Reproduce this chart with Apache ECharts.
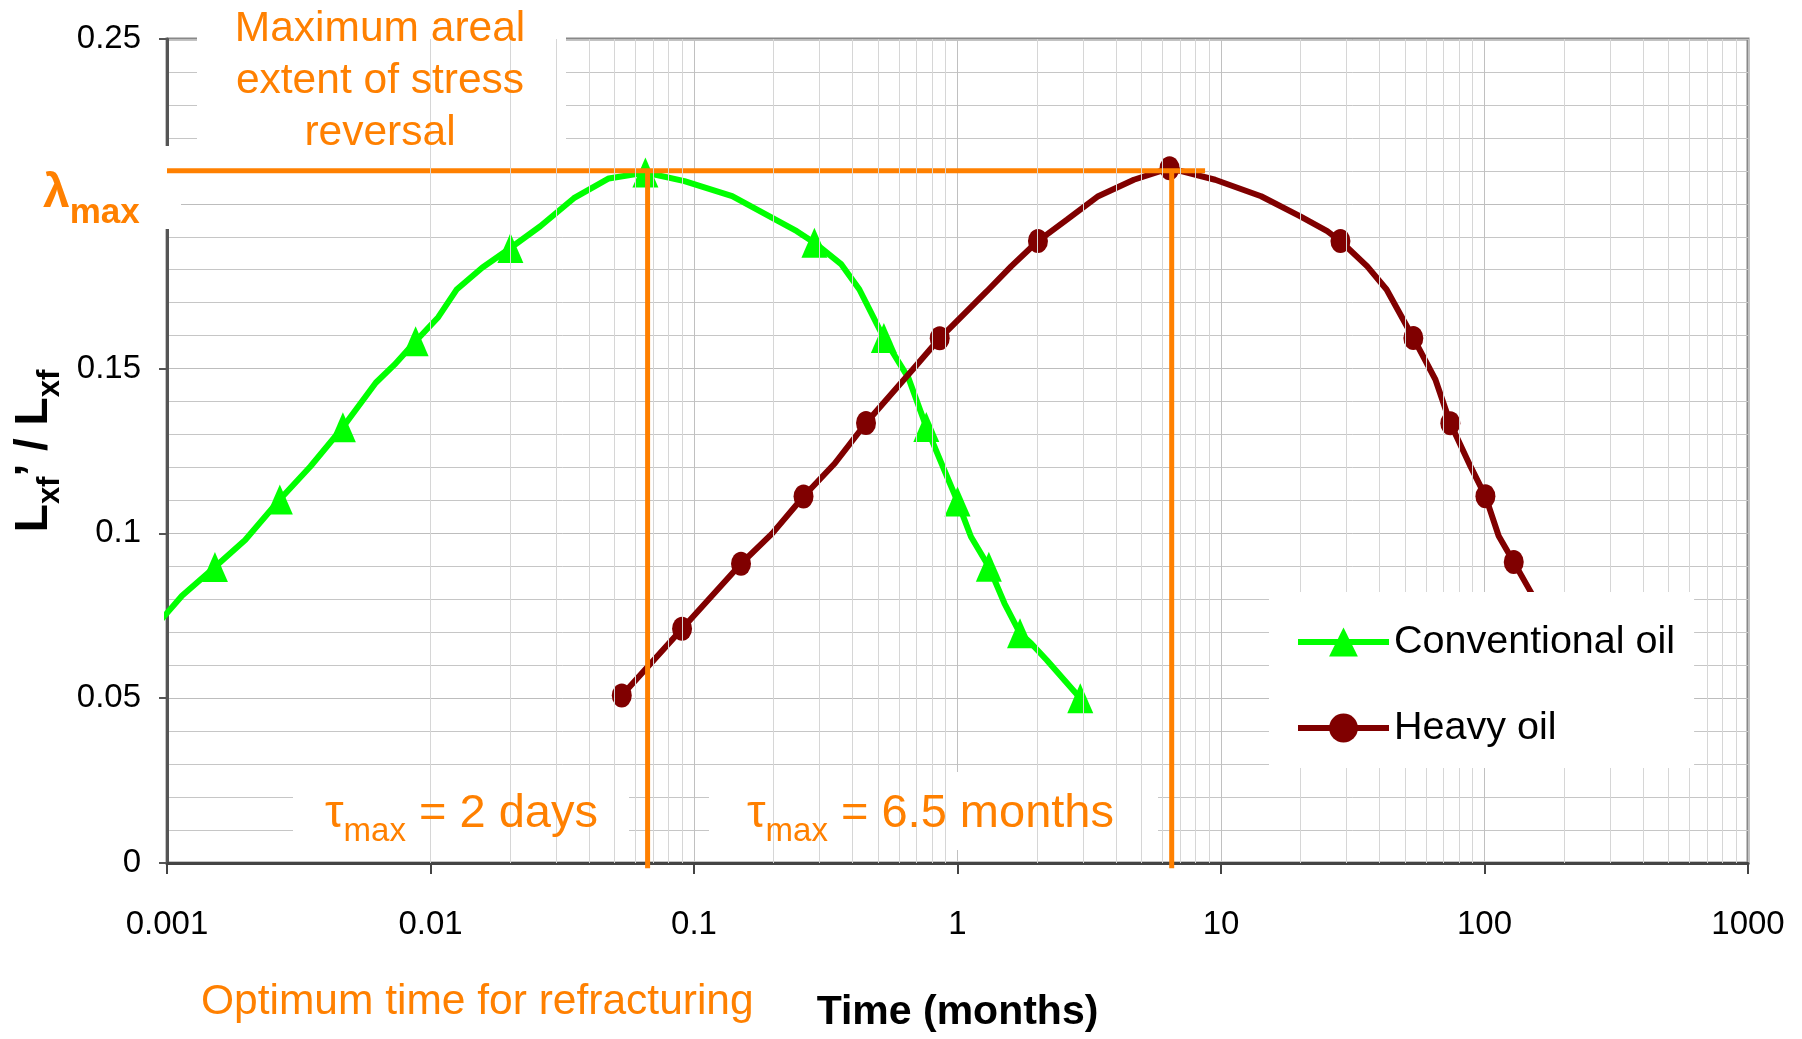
<!DOCTYPE html>
<html>
<head>
<meta charset="utf-8">
<script src="https://cdn.jsdelivr.net/npm/echarts@6/dist/echarts.min.js"></script>
<style>
  html, body { margin: 0; padding: 0; background: #fff; }
  #chart { width: 1802px; height: 1039px; }
</style>
</head>
<body>
<div id="chart"></div>
<script>
// time in months vs Lxf'/Lxf
var convMarkTime  = [0.00152, 0.00268, 0.00465, 0.00878, 0.0201, 0.0654, 0.2864, 0.5255, 0.7614, 1.0, 1.315, 1.727, 2.924];
var convMarkValue = [0.0898, 0.1103, 0.1322, 0.1583, 0.1866, 0.2095, 0.1882, 0.1593, 0.1323, 0.1097, 0.0899, 0.0697, 0.0500];
// line vertices between the markers
var convLineTime  = [0.00092, 0.00114, 0.00198, 0.0035, 0.0062, 0.0073, 0.0107, 0.0126, 0.0157, 0.0261, 0.035, 0.0475, 0.092, 0.1396, 0.2455, 0.3626, 0.4243, 0.651, 0.890, 1.125, 1.507, 1.905, 2.18];
var convLineValue = [0.0725, 0.0811, 0.0980, 0.1203, 0.1457, 0.1512, 0.1656, 0.1741, 0.1806, 0.1932, 0.2017, 0.2077, 0.2069, 0.2023, 0.1917, 0.1816, 0.1740, 0.1472, 0.1193, 0.0990, 0.0788, 0.0666, 0.0616];

var heavyMarkTime  = [0.0532, 0.0901, 0.1508, 0.2604, 0.4496, 0.856, 2.02, 6.38, 28.4, 53.7, 74.2, 100.8, 129.1];
var heavyMarkValue = [0.0508, 0.0711, 0.0908, 0.1112, 0.1335, 0.1592, 0.1887, 0.2108, 0.1887, 0.1593, 0.1334, 0.1113, 0.0913];
var heavyLineTime  = [0.1982, 0.342, 0.674, 1.29, 1.598, 2.602, 3.42, 4.67, 9.5, 14.2, 20.0, 25.3, 35.9, 42.5, 65.1, 88.4, 113.2, 151.6, 175];
var heavyLineValue = [0.1000, 0.1212, 0.1496, 0.1734, 0.1810, 0.1952, 0.2023, 0.2073, 0.2073, 0.2023, 0.1962, 0.1917, 0.1810, 0.1740, 0.1467, 0.1204, 0.0992, 0.0815, 0.0720];

var xTicks = [0.001, 0.01, 0.1, 1, 10, 100, 1000];
var yTicks = [0, 0.05, 0.1, 0.15, 0.2, 0.25];

var lambdaMax = 0.21;
var lambdaEnd = 8.7;       // where the horizontal line stops
var tauConv = 2 / 30;      // 2 days, in months
var tauHeavy = 6.5;        // months
var tauLineBottom = -0.0016;

var ORANGE = '#ff8000';
var SANS = "'Liberation Sans', Arial, sans-serif";

function buildCurve(lineT, lineV, markT, markV) {
  var pts = [];
  lineT.forEach(function (t, i) { pts.push({ value: [t, lineV[i]], symbol: 'none' }); });
  markT.forEach(function (t, i) { pts.push({ value: [t, markV[i]] }); });
  pts.sort(function (a, b) { return a.value[0] - b.value[0]; });
  return pts;
}

// minor vertical grid lines 2..9 in every decade
var minorX = [];
for (var d = 0; d < xTicks.length - 1; d++) {
  for (var m = 2; m <= 9; m++) minorX.push({ xAxis: +(m * xTicks[d]).toPrecision(6) });
}

var chart = echarts.init(document.getElementById('chart'));

var option = {
  animation: false,
  backgroundColor: '#fff',
  grid: {
    left: 167, top: 39, width: 1581, height: 824,
    outerBoundsMode: 'none', containLabel: false,
    show: true, borderColor: '#888', borderWidth: 3, backgroundColor: 'transparent'
  },
  xAxis: {
    type: 'log', logBase: 10,
    min: xTicks[0], max: xTicks[xTicks.length - 1],
    name: 'Time (months)', nameLocation: 'middle', nameGap: 129,
    nameTextStyle: { fontFamily: SANS, fontWeight: 'bold', fontSize: 41, color: '#000' },
    axisLine: { show: true, lineStyle: { color: '#444', width: 3 } },
    axisTick: { show: true, length: 11, lineStyle: { color: '#444', width: 2 } },
    axisLabel: {
      margin: 45, fontFamily: SANS, fontSize: 33, color: '#000',
      formatter: function (v) { return String(+v.toPrecision(6)); }
    },
    splitLine: { show: true, lineStyle: { color: '#c0c0c0', width: 1 } },
    minorTick: { show: false }, minorSplitLine: { show: false }
  },
  yAxis: {
    type: 'value',
    min: yTicks[0], max: yTicks[yTicks.length - 1], interval: yTicks[1] - yTicks[0],
    name: '{a|L}{b|xf}{a|\u2019 / L}{b|xf}',
    nameLocation: 'middle', nameGap: 100, nameRotate: 90,
    nameTextStyle: {
      rich: {
        a: { fontFamily: SANS, fontWeight: 'bold', fontSize: 46, color: '#000', lineHeight: 64 },
        b: { fontFamily: SANS, fontWeight: 'bold', fontSize: 31, color: '#000', lineHeight: 31, padding: [33, 0, 0, 0] }
      }
    },
    axisLine: { show: true, lineStyle: { color: '#555', width: 3 } },
    axisTick: { show: true, length: 8, lineStyle: { color: '#555', width: 2 } },
    axisLabel: { margin: 26, fontFamily: SANS, fontSize: 33, color: '#000' },
    splitLine: { show: true, lineStyle: { color: '#bdbdbd', width: 1 } },
    minorTick: { show: false },
    minorSplitLine: { show: true, lineStyle: { color: '#c6c6c6', width: 1 } }
  },
  legend: {
    data: ['Conventional oil', 'Heavy oil'],
    orient: 'vertical', left: 1269, top: 592,
    padding: [30, 19, 20, 26], itemGap: 46,
    itemWidth: 91, itemHeight: 36,
    backgroundColor: '#fff', z: 10,
    lineStyle: { width: 6 },
    textStyle: { fontFamily: SANS, fontSize: 39.5, color: '#000' }
  },
  series: [
    {
      type: 'line', name: 'minor-grid', data: [], z: 1, silent: true,
      markLine: {
        silent: true, symbol: 'none', label: { show: false }, animation: false,
        lineStyle: { color: '#d6d6d6', width: 1, type: 'solid' },
        data: minorX
      }
    },
    {
      type: 'line', name: 'Conventional oil',
      data: buildCurve(convLineTime, convLineValue, convMarkTime, convMarkValue),
      symbol: 'triangle', symbolSize: [26, 30], showAllSymbol: true,
      lineStyle: { color: '#00ff00', width: 6 },
      itemStyle: { color: '#00ff00' },
      clip: false, z: 3
    },
    {
      type: 'line', name: 'Heavy oil',
      data: buildCurve(heavyLineTime, heavyLineValue, heavyMarkTime, heavyMarkValue),
      symbol: 'circle', symbolSize: [20, 24], showAllSymbol: true,
      lineStyle: { color: '#800000', width: 6 },
      itemStyle: { color: '#800000' },
      z: 3
    },
    {
      type: 'line', name: 'lambda', data: [[xTicks[0], lambdaMax], [lambdaEnd, lambdaMax]],
      symbol: 'none', lineStyle: { color: ORANGE, width: 5 }, clip: false, z: 4, silent: true
    },
    {
      type: 'line', name: 'tau1', data: [[tauConv, lambdaMax], [tauConv, tauLineBottom]],
      symbol: 'none', lineStyle: { color: ORANGE, width: 5 }, clip: false, z: 4, silent: true
    },
    {
      type: 'line', name: 'tau2', data: [[tauHeavy, lambdaMax], [tauHeavy, tauLineBottom]],
      symbol: 'none', lineStyle: { color: ORANGE, width: 5 }, clip: false, z: 4, silent: true
    }
  ],
  graphic: {
    elements: [
      // white label boxes that hide the grid behind the notes
      { type: 'rect', z: 2, shape: { x: 197, y: 0, width: 369, height: 162 }, style: { fill: '#fff' } },
      { type: 'rect', z: 2, shape: { x: 0, y: 146, width: 181, height: 83 }, style: { fill: '#fff' } },
      { type: 'rect', z: 2, shape: { x: 293, y: 773, width: 336, height: 77 }, style: { fill: '#fff' } },
      { type: 'rect', z: 2, shape: { x: 709, y: 772, width: 449, height: 78 }, style: { fill: '#fff' } },
      {
        type: 'text', z: 6, x: 380, y: 3,
        style: {
          text: 'Maximum areal\nextent of stress\nreversal',
          fill: ORANGE, fontFamily: SANS, fontSize: 42.5, lineHeight: 52,
          align: 'center', verticalAlign: 'top'
        }
      },
      {
        type: 'text', z: 6, x: 43, y: 156,
        style: {
          text: '{l|\u03bb}{m|max}', verticalAlign: 'top',
          rich: {
            l: { fontFamily: SANS, fontWeight: 'bold', fontSize: 48, lineHeight: 75, fill: ORANGE },
            m: { fontFamily: SANS, fontWeight: 'bold', fontSize: 35, lineHeight: 35, padding: [40, 0, 0, 0], fill: ORANGE }
          }
        }
      },
      {
        type: 'text', z: 6, x: 325, y: 781,
        style: {
          text: '{t|\u03c4}{m|max}{t| = 2 days}', verticalAlign: 'top',
          rich: {
            t: { fontFamily: SANS, fontSize: 47, lineHeight: 67, fill: ORANGE },
            m: { fontFamily: SANS, fontSize: 33, lineHeight: 33, padding: [34, 0, 0, 0], fill: ORANGE }
          }
        }
      },
      {
        type: 'text', z: 6, x: 747, y: 781,
        style: {
          text: '{t|\u03c4}{m|max}{t| = 6.5 months}', verticalAlign: 'top',
          rich: {
            t: { fontFamily: SANS, fontSize: 47, lineHeight: 67, fill: ORANGE },
            m: { fontFamily: SANS, fontSize: 33, lineHeight: 33, padding: [34, 0, 0, 0], fill: ORANGE }
          }
        }
      },
      {
        type: 'text', z: 6, x: 201, y: 1002,
        style: {
          text: 'Optimum time for refracturing',
          fill: ORANGE, fontFamily: SANS, fontSize: 42.5, verticalAlign: 'middle'
        }
      }
    ]
  }
};

chart.setOption(option);
</script>
</body>
</html>
